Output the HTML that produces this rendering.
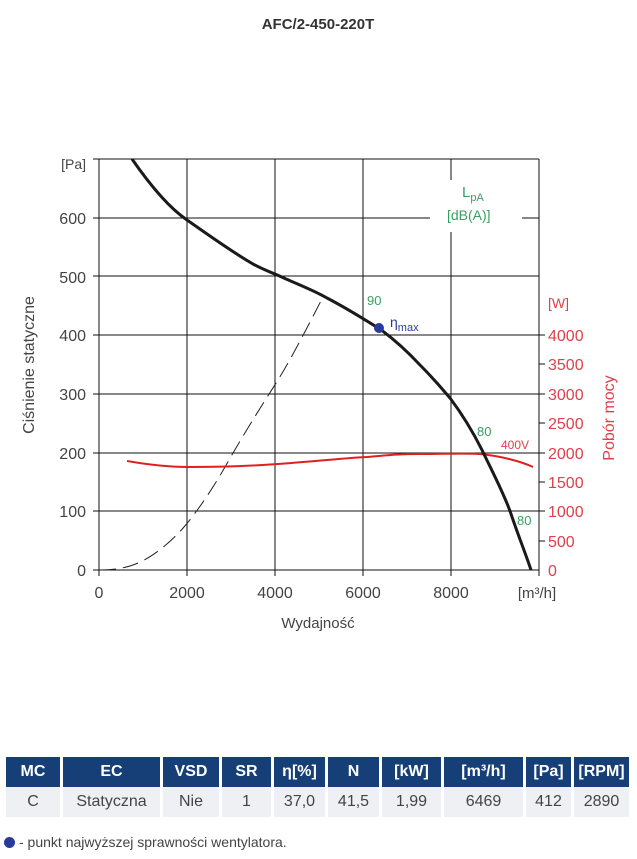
<!DOCTYPE html>
<html><head><meta charset="utf-8"><style>
body{margin:0;background:#fff;width:637px;height:859px;overflow:hidden;font-family:"Liberation Sans",sans-serif}
svg{position:absolute;left:0;top:0}
table{position:absolute;left:3px;top:757px;border-collapse:separate;border-spacing:3px 0;font-family:"Liberation Sans",sans-serif}
th{background:#163f78;color:#fff;height:30px;font-size:16px;font-weight:bold;padding:0;text-align:center}
td{background:#eef0f3;color:#444;height:30px;font-size:16px;padding:0;text-align:center}
.note{position:absolute;left:4px;top:834px;font-size:14px;color:#444}
.dot{display:inline-block;width:11px;height:11px;border-radius:50%;background:#2a3a9a;vertical-align:-1px;margin-right:4px}
</style></head><body>
<svg width="637" height="760" font-family="Liberation Sans, sans-serif">
<text x="318" y="29" text-anchor="middle" font-size="15" font-weight="bold" fill="#333">AFC/2-450-220T</text>
<g stroke="#111" stroke-width="1">
<line x1="93" y1="159" x2="539" y2="159"/>
<line x1="93" y1="218" x2="430" y2="218"/><line x1="522" y1="218" x2="539" y2="218"/>
<line x1="93" y1="276" x2="539" y2="276"/>
<line x1="93" y1="335" x2="539" y2="335"/>
<line x1="93" y1="394" x2="539" y2="394"/>
<line x1="93" y1="453" x2="539" y2="453"/>
<line x1="93" y1="511" x2="539" y2="511"/>
<line x1="93" y1="570" x2="539" y2="570"/>
<line x1="99" y1="159" x2="99" y2="576"/>
<line x1="187" y1="159" x2="187" y2="576"/>
<line x1="275" y1="159" x2="275" y2="576"/>
<line x1="363" y1="159" x2="363" y2="576"/>
<line x1="451" y1="159" x2="451" y2="180"/><line x1="451" y1="232" x2="451" y2="576"/>
<line x1="539" y1="159" x2="539" y2="576"/>
<line x1="539" y1="335" x2="545" y2="335"/><line x1="539" y1="364" x2="545" y2="364"/>
<line x1="539" y1="394" x2="545" y2="394"/><line x1="539" y1="423" x2="545" y2="423"/>
<line x1="539" y1="453" x2="545" y2="453"/><line x1="539" y1="482" x2="545" y2="482"/>
<line x1="539" y1="511" x2="545" y2="511"/><line x1="539" y1="541" x2="545" y2="541"/>
</g>
<g font-size="16" fill="#444" text-anchor="end">
<text x="86" y="224">600</text><text x="86" y="283">500</text><text x="86" y="341">400</text>
<text x="86" y="400">300</text><text x="86" y="459">200</text><text x="86" y="517">100</text><text x="86" y="576">0</text>
<text x="86" y="169" font-size="14">[Pa]</text>
</g>
<g font-size="16" fill="#444" text-anchor="middle">
<text x="99" y="598">0</text><text x="187" y="598">2000</text><text x="275" y="598">4000</text>
<text x="363" y="598">6000</text><text x="451" y="598">8000</text>
<text x="537" y="598" font-size="15">[m³/h]</text>
<text x="318" y="628" font-size="15">Wydajność</text>
</g>
<text transform="translate(34,365) rotate(-90)" text-anchor="middle" font-size="16" fill="#444">Ciśnienie statyczne</text>
<text transform="translate(614,418) rotate(-90)" text-anchor="middle" font-size="16" fill="#e0404a">Pobór mocy</text>
<g font-size="16" fill="#e0404a">
<text x="548" y="308" font-size="14">[W]</text>
<text x="548" y="341">4000</text><text x="548" y="370">3500</text><text x="548" y="400">3000</text>
<text x="548" y="429">2500</text><text x="548" y="459">2000</text><text x="548" y="488">1500</text>
<text x="548" y="517">1000</text><text x="548" y="547">500</text><text x="548" y="576">0</text>
</g>
<g fill="#3aa060" font-size="13">
<text x="462" y="197" font-size="15">L<tspan font-size="11" dy="4">pA</tspan></text>
<text x="447" y="220" font-size="14">[dB(A)]</text>
<text x="367" y="305">90</text><text x="477" y="436">80</text><text x="517" y="525">80</text>
</g>
<text x="501" y="449" font-size="12" fill="#e0404a">400V</text>
<path d="M100,570 C110,570 120,569 130,566 C150,560 170,543 184,527 C200,508 215,485 229,460 C245,432 262,405 278,380 C295,352 310,322 324,295" fill="none" stroke="#222" stroke-width="1" stroke-dasharray="16,7"/>
<path d="M127,461 C150,465 170,467 188,467 C220,467 250,466 278,464 C320,461 345,458 367,457 C390,455 400,454 420,454 C445,454 465,453 480,454 C500,456 520,461 533,467" fill="none" stroke="#e02020" stroke-width="2"/>
<path d="M132,159 C150,185 168,207 187,220 C210,236 232,252 253,264 C266,271 276,274 286,279 C300,285 315,291 327,298 C350,310 365,320 380,329 C395,340 407,351 420,365 C435,380 443,390 450,398 C462,414 472,430 482,450 C494,475 503,492 510,511 C518,535 525,552 531,570" fill="none" stroke="#1a1a1a" stroke-width="3"/>
<circle cx="379" cy="328" r="5" fill="#2a3a9a"/>
<text x="390" y="327" font-size="14" fill="#2a3a9a">η<tspan font-size="11" dy="4">max</tspan></text>
</svg>
<table>
<tr><th style="width:54px">MC</th><th style="width:97px">EC</th><th style="width:56px">VSD</th><th style="width:49px">SR</th><th style="width:51px">η[%]</th><th style="width:51px">N</th><th style="width:59px">[kW]</th><th style="width:79px">[m³/h]</th><th style="width:45px">[Pa]</th><th style="width:55px">[RPM]</th></tr>
<tr><td>C</td><td>Statyczna</td><td>Nie</td><td>1</td><td>37,0</td><td>41,5</td><td>1,99</td><td>6469</td><td>412</td><td>2890</td></tr>
</table>
<div class="note"><span class="dot"></span>- punkt najwyższej sprawności wentylatora.</div>
</body></html>
